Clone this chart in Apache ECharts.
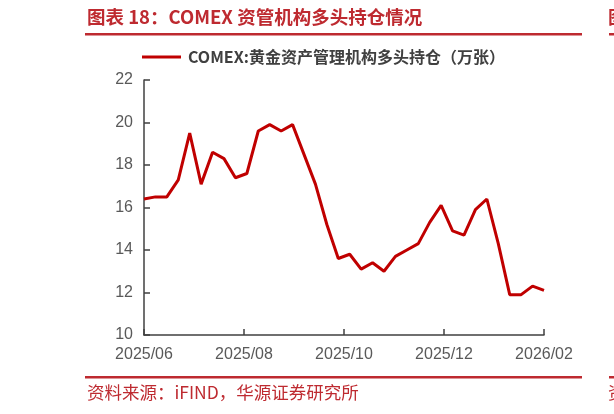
<!DOCTYPE html>
<html>
<head>
<meta charset="utf-8">
<script src="https://cdn.jsdelivr.net/npm/echarts@6/dist/echarts.min.js"></script>
<style>
  html, body { margin: 0; padding: 0; background: #fff; }
  #chart { width: 614px; height: 414px; }
</style>
</head>
<body>
<div id="chart"></div>
<script>
// weekly values, 2025/06 -> 2026/02 (万张)
const seriesName = "COMEX:黄金资产管理机构多头持仓（万张）";
const longPos = [
  16.4, 16.5, 16.5, 17.3, 19.5, 17.1, 18.6, 18.3, 17.4, 17.6,
  19.6, 19.9, 19.6, 19.9, 18.5, 17.1, 15.2, 13.6, 13.8, 13.1,
  13.4, 13.0, 13.7, 14.0, 14.3, 15.3, 16.1, 14.9, 14.7, 15.9,
  16.4, 14.3, 11.9, 11.9, 12.3, 12.1,
];
const tickLabels = ["2025/06", "2025/08", "2025/10", "2025/12", "2026/02"];
const weeksPerTick = 8.75; // two months in weeks

const red = "#BE2A30";
const chart = echarts.init(document.getElementById("chart"));

chart.setOption({
  animation: false,
  textStyle: { fontFamily: "Liberation Sans, Arial, sans-serif" },
  grid: { left: 144, right: 70, top: 80, bottom: 79 },
  legend: {
    data: [seriesName],
    left: 137,
    top: 44,
    icon: "rect",
    itemWidth: 39,
    itemHeight: 3,
    textStyle: {
      fontFamily: "Noto Sans CJK SC",
      fontSize: 16,
      fontWeight: "bold",
      color: "#404040",
      padding: [0, 0, 0, 2],
    },
  },
  xAxis: {
    type: "value",
    min: 0,
    max: weeksPerTick * (tickLabels.length - 1),
    interval: weeksPerTick,
    splitLine: { show: false },
    axisLine: { lineStyle: { color: "#404040", width: 1.5 } },
    axisTick: { show: true, inside: true, length: 6, lineStyle: { color: "#404040", width: 1.5 } },
    axisLabel: {
      fontSize: 16,
      color: "#595959",
      margin: 12,
      formatter: (v) => tickLabels[Math.round(v / weeksPerTick)] || "",
    },
  },
  yAxis: {
    type: "value",
    min: 10,
    max: 22,
    interval: 2,
    splitLine: { show: false },
    axisLine: { show: true, lineStyle: { color: "#404040", width: 1.5 } },
    axisTick: { show: true, inside: true, length: 6, lineStyle: { color: "#404040", width: 1.5 } },
    axisLabel: { fontSize: 16, color: "#595959", margin: 11 },
  },
  series: [
    {
      name: seriesName,
      type: "line",
      data: longPos.map((v, i) => [i, v]),
      showSymbol: false,
      lineStyle: { color: "#C00000", width: 3 },
      itemStyle: { color: "#C00000" },
    },
  ],
  graphic: [
    {
      type: "text",
      left: 87,
      top: 8,
      style: {
        text: "图表 18：COMEX 资管机构多头持仓情况",
        fill: red,
        font: "bold 18.5px 'Noto Sans CJK SC'",
      },
    },
    { type: "rect", shape: { x: 85, y: 33, width: 497, height: 2.5 }, style: { fill: red } },
    { type: "rect", shape: { x: 609, y: 33, width: 10, height: 2.5 }, style: { fill: red } },
    {
      type: "text",
      left: 608,
      top: 8,
      style: { text: "图表", fill: red, font: "bold 18.5px 'Noto Sans CJK SC'" },
    },
    { type: "rect", shape: { x: 85, y: 376, width: 497, height: 2.5 }, style: { fill: red } },
    { type: "rect", shape: { x: 609, y: 376, width: 10, height: 2.5 }, style: { fill: red } },
    {
      type: "text",
      left: 87,
      top: 384,
      style: {
        text: "资料来源：iFIND，华源证券研究所",
        fill: red,
        font: "17.5px 'Noto Sans CJK SC'",
      },
    },
    {
      type: "text",
      left: 608,
      top: 384,
      style: { text: "资料", fill: red, font: "17.5px 'Noto Sans CJK SC'" },
    },
  ],
});
</script>
</body>
</html>
